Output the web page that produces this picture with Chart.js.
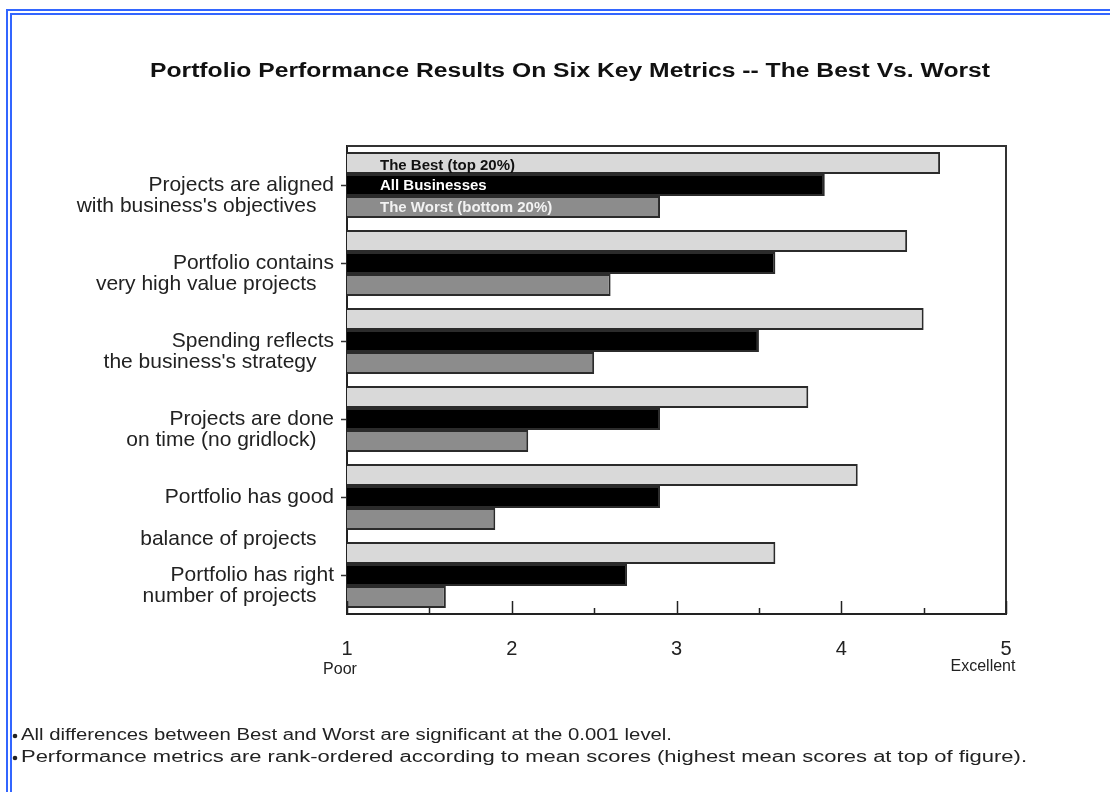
<!DOCTYPE html>
<html>
<head>
<meta charset="utf-8">
<title>Portfolio Performance Results</title>
<script src="https://cdn.jsdelivr.net/npm/chart.js@4/dist/chart.umd.min.js"></script>
<style>
  html, body { margin: 0; padding: 0; background: #fff; overflow: hidden; }
  #wrap { position: relative; width: 1110px; height: 792px; }
  #frame {
    position: absolute; left: 6px; top: 9px; width: 1300px; height: 1000px;
    border-top: 6px double #3366ff; border-left: 6px double #3366ff;
    pointer-events: none;
  }
</style>
</head>
<body>
<div id="wrap">
  <canvas id="chart" width="1110" height="792"></canvas>
  <div id="frame"></div>
</div>
<script>
// metric names, top to bottom; leading blank lines put the first line on the tick,
// trailing spaces pull the second line a little left of the first
const metrics = [
  ['', 'Projects are aligned', "with business's objectives   "],
  ['', 'Portfolio contains', 'very high value projects   '],
  ['', 'Spending reflects', "the business's strategy   "],
  ['', 'Projects are done', 'on time (no gridlock)   '],
  ['', '', 'Portfolio has good', '', 'balance of projects   '],
  ['', 'Portfolio has right', 'number of projects   ']
];

// mean scores on the 1-5 scale
const best = [4.6, 4.4, 4.5, 3.8, 4.1, 3.6];
const allBusinesses = [3.9, 3.6, 3.5, 2.9, 2.9, 2.7];
const worst = [2.9, 2.6, 2.5, 2.1, 1.9, 1.6];

const seriesNames = ['The Best (top 20%)', 'All Businesses', 'The Worst (bottom 20%)'];
const scaleMin = 1;
const scaleMax = 5;
const scaleEnds = ['Poor', 'Excellent'];

const title = 'Portfolio Performance Results On Six Key Metrics -- The Best Vs. Worst';
const notes = [
  'All differences between Best and Worst are significant at the 0.001 level.',
  'Performance metrics are rank-ordered according to mean scores (highest mean scores at top of figure).'
];
const noteWidths = [651, 1006];

const FONT = '"Liberation Sans", Arial, sans-serif';

// draw left-aligned text squeezed or stretched to a given width
function fitText(ctx, text, x, y, width) {
  const w = ctx.measureText(text).width;
  ctx.save();
  ctx.translate(x, y);
  ctx.scale(width / w, 1);
  ctx.textAlign = 'left';
  ctx.fillText(text, 0, 0);
  ctx.restore();
}

const decorations = {
  id: 'decorations',
  beforeDraw(chart) {
    const { ctx, width, height } = chart;
    ctx.save();
    ctx.fillStyle = '#fff';
    ctx.fillRect(0, 0, width, height);
    ctx.restore();
  },
  afterDatasetsDraw(chart) {
    const { ctx, chartArea: a, scales: { x } } = chart;
    ctx.save();

    // box around the plot (top and right sides)
    ctx.strokeStyle = '#333';
    ctx.lineWidth = 2;
    ctx.beginPath();
    ctx.moveTo(a.left, a.top);
    ctx.lineTo(a.right, a.top);
    ctx.lineTo(a.right, a.bottom);
    ctx.stroke();

    // tick marks pointing up into the plot, half steps shorter
    ctx.strokeStyle = '#222';
    ctx.lineWidth = 1.5;
    for (let i = 0; i <= (scaleMax - scaleMin) * 2; i++) {
      const v = scaleMin + i / 2;
      const px = Math.round(x.getPixelForValue(v)) + 0.5;
      const len = i % 2 === 0 ? 13 : 6;
      ctx.beginPath();
      ctx.moveTo(px, a.bottom);
      ctx.lineTo(px, a.bottom - len);
      ctx.stroke();
    }

    // series names written inside the first group of bars
    const nameColors = ['#111', '#fff', '#f2f2f2'];
    const nameShift = [3, 1, 1];
    const left = x.getPixelForValue(scaleMin) + 33;
    ctx.font = 'bold 15px ' + FONT;
    ctx.textBaseline = 'middle';
    ctx.textAlign = 'left';
    seriesNames.forEach((name, i) => {
      const bar = chart.getDatasetMeta(i).data[0];
      ctx.fillStyle = nameColors[i];
      ctx.fillText(name, left, bar.y + nameShift[i]);
    });
    ctx.restore();
  },
  afterDraw(chart) {
    const { ctx, chartArea: a, scales: { x } } = chart;
    ctx.save();
    ctx.textBaseline = 'middle';

    ctx.fillStyle = '#111';
    ctx.font = 'bold 20px ' + FONT;
    fitText(ctx, title, 150, 71, 840);

    ctx.fillStyle = '#222';
    ctx.font = '16px ' + FONT;
    ctx.textAlign = 'center';
    ctx.fillText(scaleEnds[0], x.getPixelForValue(scaleMin) - 7, a.bottom + 56);
    ctx.fillText(scaleEnds[1], x.getPixelForValue(scaleMax) - 23, a.bottom + 53);

    // footnotes
    ctx.font = '16px ' + FONT;
    notes.forEach((note, i) => {
      const y = 736 + i * 22;
      ctx.beginPath();
      ctx.arc(15, y, 2.3, 0, Math.PI * 2);
      ctx.fill();
      fitText(ctx, note, 21, y, noteWidths[i]);
    });
    ctx.restore();
  }
};

const barStyle = { base: scaleMin, borderColor: '#2b2b2b', borderWidth: 2, borderSkipped: 'start' };

new Chart(document.getElementById('chart'), {
  type: 'bar',
  data: {
    labels: metrics,
    datasets: [
      { label: seriesNames[0], data: best, backgroundColor: '#d9d9d9', ...barStyle },
      { label: seriesNames[1], data: allBusinesses, backgroundColor: '#000', ...barStyle },
      { label: seriesNames[2], data: worst, backgroundColor: '#8c8c8c', ...barStyle }
    ]
  },
  options: {
    indexAxis: 'y',
    responsive: false,
    animation: false,
    devicePixelRatio: 1,
    categoryPercentage: 0.846,
    barPercentage: 1.0,
    layout: { padding: { top: 146, right: 104, bottom: 118, left: 0 } },
    plugins: {
      legend: { display: false },
      tooltip: { enabled: false },
      title: { display: false }
    },
    scales: {
      x: {
        type: 'linear',
        min: scaleMin,
        max: scaleMax,
        ticks: {
          stepSize: 1,
          color: '#222',
          font: { family: FONT, size: 20 },
          padding: 15
        },
        grid: { display: false },
        border: { display: true, color: '#222', width: 2 },
        afterFit(scale) { scale.height = 60; }
      },
      y: {
        ticks: {
          color: '#222',
          font: { family: FONT, size: 21, lineHeight: 1.0 },
          padding: 7,
          autoSkip: false
        },
        grid: {
          display: true,
          drawOnChartArea: false,
          offset: false,
          tickLength: 6,
          tickColor: '#333',
          tickWidth: 1.5
        },
        border: { display: true, color: '#222', width: 2 },
        afterFit(scale) { scale.width = 347; }
      }
    }
  },
  plugins: [decorations]
});
</script>
</body>
</html>
